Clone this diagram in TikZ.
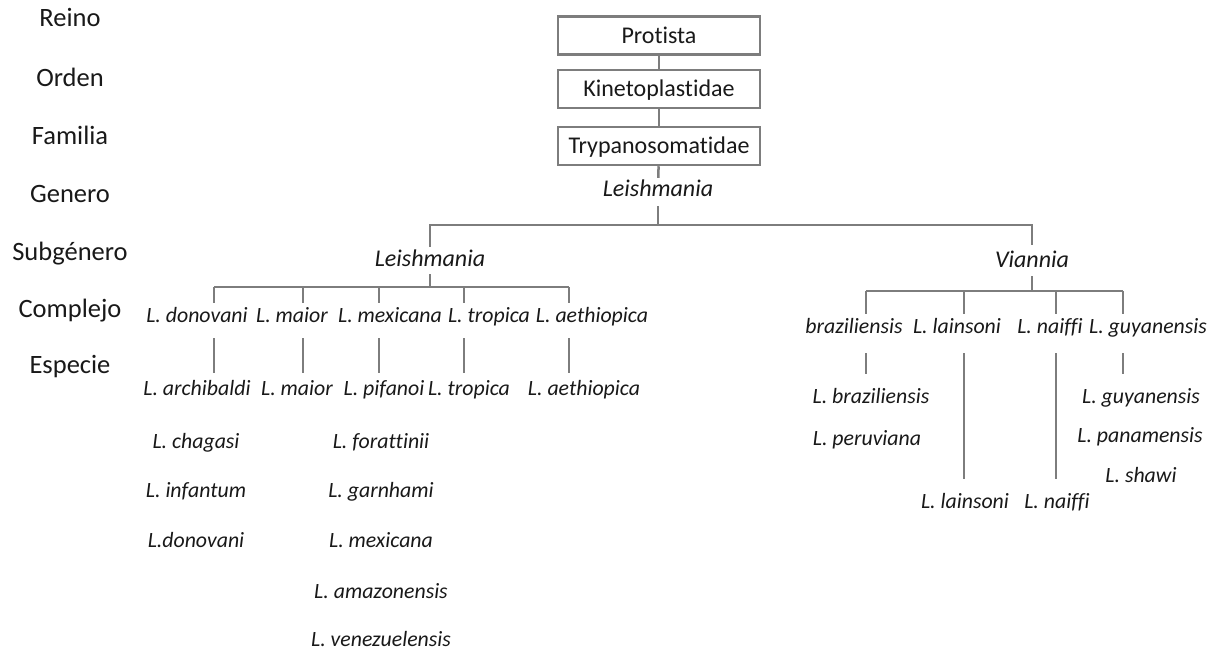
\documentclass[tikz,border=0pt]{standalone}
\usepackage{fontspec}
\setmainfont[Ligatures=NoCommon]{Carlito}
\definecolor{lg}{RGB}{125,125,125}
\definecolor{tx}{RGB}{25,25,25}
\begin{document}
\begin{tikzpicture}[x=1pt,y=-1pt,
  rank/.style={font=\fontsize{26.5}{30}\selectfont, text=tx, anchor=base, inner sep=0pt},
  taxbox/.style={draw=lg, line width=2.5pt, minimum width=202pt, minimum height=38pt,
     font=\fontsize{24}{28}\selectfont, text=tx, text height=17pt, text depth=1pt, inner sep=0pt},
  sp/.style={font=\fontsize{21.8}{26}\selectfont\itshape, text=tx, anchor=base,
     inner xsep=0pt, inner ysep=4pt, text height=15pt, text depth=5pt},
  gen/.style={sp, font=\fontsize{24}{28}\selectfont\itshape},
  conn/.style={draw=lg, line width=2.5pt}]
\useasboundingbox[fill=white] (0,0) rectangle (1214,652);

% rank labels
\node[rank] (r1) at (70,27) {Reino};
\node[rank] (r2) at (70,87) {Orden};
\node[rank] (r3) at (70,145) {Familia};
\node[rank] (r4) at (70,203) {Genero};
\node[rank] (r5) at (70,260) {Subgénero};
\node[rank] (r6) at (70,317) {Complejo};
\node[rank] (r7) at (70,373) {Especie};

% boxes
\node[taxbox] (P) at (659,35.5) {Protista};
\node[taxbox] (K) at (659,89) {Kinetoplastidae};
\node[taxbox] (T) at (659,146) {Trypanosomatidae};
\draw[conn] (P) -- (K);
\draw[conn] (K) -- (T);

% genus and subgenera
\node[gen] (G) at (658,197) {Leishmania};
\node[gen] (L) at (430,266) {Leishmania};
\node[gen] (V) at (1032,267) {Viannia};
\draw[conn] (T) -- (G);
\coordinate (jG) at (658,225);
\coordinate (bL) at (430,225);
\coordinate (bR) at (1032,225);
\draw[conn] (G.south) -- (jG);
\draw[conn,shorten >=3pt] (L.north) -- (bL) -- (bR) -- (V.north);

% Leishmania complexes
\node[sp] (C1) at (197,322) {L. donovani};
\node[sp] (C2) at (292,322) {L. maior};
\node[sp] (C3) at (390,322) {L. mexicana};
\node[sp] (C4) at (489,322) {L. tropica};
\node[sp] (C5) at (592,322) {L. aethiopica};
\coordinate (bl) at (430,287);
\coordinate (d1) at (214,287);
\coordinate (d2) at (303,287);
\coordinate (d3) at (379,287);
\coordinate (d4) at (464,287);
\coordinate (d5) at (569,287);
\draw[conn,shorten <=-1pt] (L.south) -- (bl);
\draw[conn] (d1) -- (d5);
\foreach \i in {1,...,5} {\draw[conn] (d\i) -- (d\i |- C\i.north);}

% Leishmania species
\node[sp] (S1) at (197,395) {L. archibaldi};
\node[sp] (S2) at (297,395) {L. maior};
\node[sp] (S3) at (384,395) {L. pifanoi};
\node[sp] (S4) at (469,395) {L. tropica};
\node[sp] (S5) at (584,395) {L. aethiopica};
\foreach \i in {1,...,5} {\draw[conn,shorten <=7pt,shorten >=3pt] (d\i |- C\i.south) -- (d\i |- S\i.north);}
\node[sp] (S6) at (196,448) {L. chagasi};
\node[sp] (S7) at (196,497) {L. infantum};
\node[sp] (S8) at (196,547) {L.donovani};
\node[sp] (S9) at (381,448) {L. forattinii};
\node[sp] (S10) at (381,497) {L. garnhami};
\node[sp] (S11) at (381,547) {L. mexicana};
\node[sp] (S12) at (381,598) {L. amazonensis};
\node[sp] (S13) at (381,646) {L. venezuelensis};

% Viannia complexes
\node[sp] (R1) at (854,333) {braziliensis};
\node[sp] (R2) at (957,333) {L. lainsoni};
\node[sp] (R3) at (1050,333) {L. naiffi};
\node[sp] (R4) at (1148,333) {L. guyanensis};
\coordinate (br) at (1032,291);
\coordinate (e1) at (866,291);
\coordinate (e2) at (964,291);
\coordinate (e3) at (1056,291);
\coordinate (e4) at (1123,291);
\draw[conn] (V.south) -- (br);
\draw[conn] (e1) -- (e4);
\foreach \i in {1,...,4} {\draw[conn] (e\i) -- (e\i |- R\i.north);}

% Viannia species
\node[sp] (Q1) at (871,403) {L. braziliensis};
\node[sp] (Q2) at (867,445) {L. peruviana};
\node[sp] (Q3) at (965,508) {L. lainsoni};
\node[sp] (Q4) at (1057,508) {L. naiffi};
\node[sp] (Q5) at (1141,403) {L. guyanensis};
\node[sp] (Q6) at (1140,442) {L. panamensis};
\node[sp] (Q7) at (1141,482) {L. shawi};
\draw[conn,shorten <=11pt,shorten >=10pt] (e1 |- R1.south) -- (e1 |- Q1.north);
\draw[conn,shorten <=11pt,shorten >=10pt] (e2 |- R2.south) -- (e2 |- Q3.north);
\draw[conn,shorten <=11pt,shorten >=10pt] (e3 |- R3.south) -- (e3 |- Q4.north);
\draw[conn,shorten <=11pt,shorten >=10pt] (e4 |- R4.south) -- (e4 |- Q5.north);
\end{tikzpicture}
\end{document}
